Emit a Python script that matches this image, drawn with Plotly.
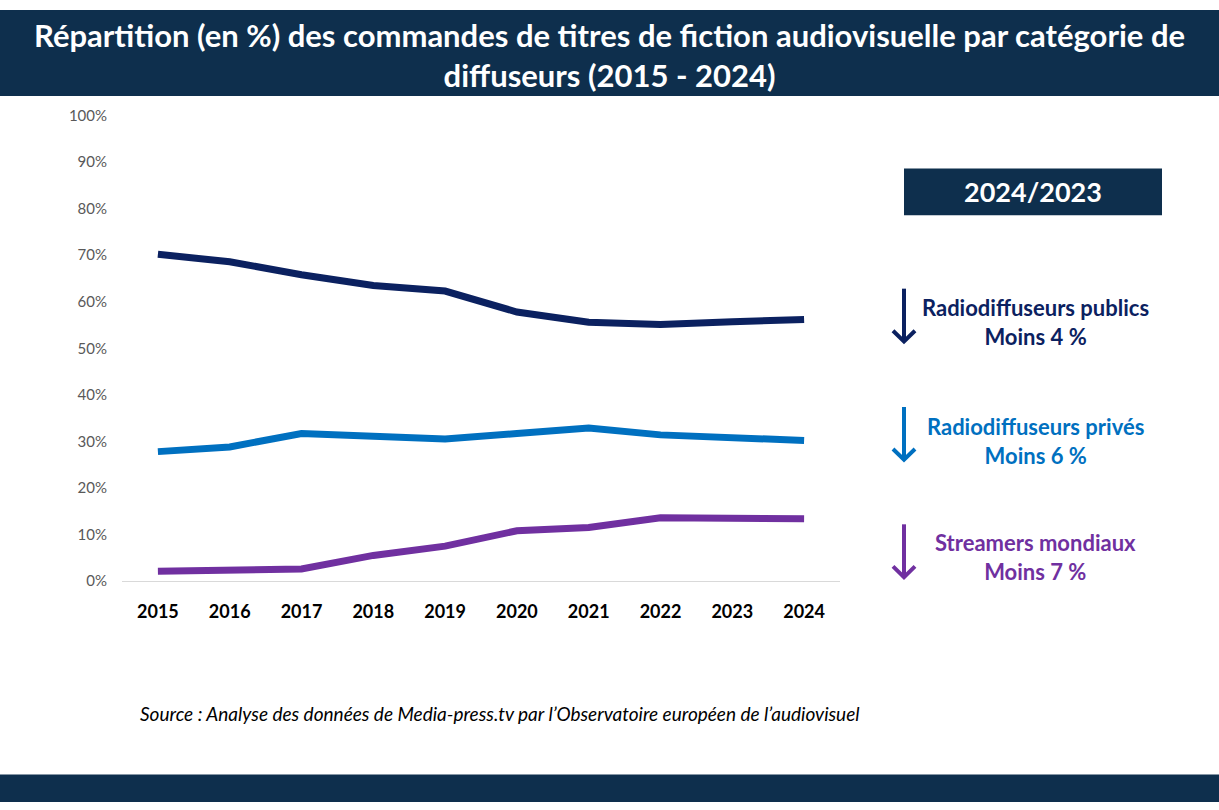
import plotly.graph_objects as go

# Data
YEARS = ["2015", "2016", "2017", "2018", "2019", "2020", "2021", "2022", "2023", "2024"]
PUBLICS = [70.2, 68.6, 65.8, 63.5, 62.3, 57.8, 55.6, 55.1, 55.7, 56.2]
PRIVES = [27.8, 28.8, 31.7, 31.1, 30.5, 31.7, 32.9, 31.4, 30.7, 30.2]
STREAMERS = [2.1, 2.3, 2.6, 5.5, 7.5, 10.8, 11.5, 13.6, 13.6, 13.4]
Y_TICKS = [0, 10, 20, 30, 40, 50, 60, 70, 80, 90, 100]

SERIES_NAMES = ["Radiodiffuseurs publics", "Radiodiffuseurs privés", "Streamers mondiaux"]
SERIES_CHANGE = ["Moins 4 %", "Moins 6 %", "Moins 7 %"]

NAVY = "#0e2f4d"
COLORS = ["#0b2160", "#0070c0", "#7030a0"]
FONT = "Lato"

W, H = 1219, 810


def px(x, y):
    # pixel position -> paper coordinates
    return x / W, 1 - y / H


fig = go.Figure()

for vals, name, col in zip([PUBLICS, PRIVES, STREAMERS], SERIES_NAMES, COLORS):
    fig.add_trace(go.Scatter(x=YEARS, y=vals, mode="lines", name=name,
                             line=dict(color=col, width=7), cliponaxis=False))

shapes = []
# header and footer bands
shapes.append(dict(type="rect", xref="paper", yref="paper", x0=0, x1=1,
                   y0=px(0, 88)[1], y1=1, fillcolor=NAVY, line_width=0, layer="below"))
shapes.append(dict(type="rect", xref="paper", yref="paper", x0=0, x1=1,
                   y0=0, y1=px(0, 782)[1], fillcolor=NAVY, line_width=0, layer="below"))
# 2024/2023 box
shapes.append(dict(type="rect", xref="paper", yref="paper",
                   x0=px(904, 0)[0], x1=px(1162, 0)[0],
                   y0=px(0, 210)[1], y1=px(0, 162)[1], fillcolor=NAVY, line_width=0))

annotations = [
    dict(text="<b>Répartition (en %) des commandes de titres de fiction audiovisuelle par catégorie de<br>diffuseurs (2015 - 2024)</b>",
         x=px(609, 0)[0], y=px(0, 46)[1], xref="paper", yref="paper", showarrow=False,
         xanchor="center", yanchor="middle", align="center",
         font=dict(family=FONT, size=31, color="white")),
    dict(text="<b>2024/2023</b>", x=px(1033, 0)[0], y=px(0, 186)[1], xref="paper", yref="paper",
         showarrow=False, xanchor="center", yanchor="middle",
         font=dict(family=FONT, size=27, color="white")),
    dict(text="<i>Source : Analyse des données de Media-press.tv par l’Observatoire européen de l’audiovisuel</i>",
         x=px(138, 0)[0], y=px(0, 719)[1], xref="paper", yref="paper", showarrow=False,
         xanchor="left", yanchor="middle", font=dict(family=FONT, size=19, color="black")),
]

# down arrows + change labels on the right
arrow_tops = [285, 406, 526]
label_y = [319, 441, 559]
for top, ly, name, chg, col in zip(arrow_tops, label_y, SERIES_NAMES, SERIES_CHANGE, COLORS):
    bottom = top + 54
    x0, y0 = px(904, top)
    x1, y1 = px(904, bottom)
    shapes.append(dict(type="line", xref="paper", yref="paper", x0=x0, x1=x1, y0=y0, y1=y1,
                       line=dict(color=col, width=4)))
    lx, ly0 = px(893, bottom - 11)
    rx, _ = px(915, bottom - 11)
    shapes.append(dict(type="path", xref="paper", yref="paper",
                       path=f"M {lx},{ly0} L {x1},{y1} L {rx},{ly0}",
                       line=dict(color=col, width=4)))
    annotations.append(dict(text=f"<b>{name}<br>{chg}</b>", x=px(1035, 0)[0], y=px(0, ly)[1],
                            xref="paper", yref="paper", showarrow=False, align="center",
                            xanchor="center", yanchor="middle",
                            font=dict(family=FONT, size=22, color=col)))

fig.update_layout(
    width=W, height=H,
    margin=dict(l=0, r=0, t=0, b=0),
    paper_bgcolor="white", plot_bgcolor="white",
    showlegend=False,
    shapes=shapes,
    annotations=annotations,
    xaxis=dict(domain=[px(122, 0)[0], px(840, 0)[0]], range=[-0.5, 9.5],
               showgrid=False, showline=True, linecolor="#d9d9d9", linewidth=1,
               ticks="", ticklabelstandoff=14,
               tickfont=dict(family=FONT, size=18, color="black", weight="bold")),
    yaxis=dict(domain=[px(0, 584)[1], px(0, 108)[1]], range=[0, 100],
               tickvals=Y_TICKS, ticktext=[f"{v}%" for v in Y_TICKS],
               showgrid=False, zeroline=False, showline=False, ticks="",
               ticklabelstandoff=14,
               tickfont=dict(family=FONT, size=15, color="#595959")),
)

# pin the figure to the top-left corner of the page
pin = ("document.body.style.margin='0';document.body.style.overflow='hidden';"
       "var d=document.getElementById('{plot_id}');"
       "d.style.position='fixed';d.style.top='0';d.style.left='0';")

fig.write_html("out.html", config={"displayModeBar": False}, post_script=pin)
